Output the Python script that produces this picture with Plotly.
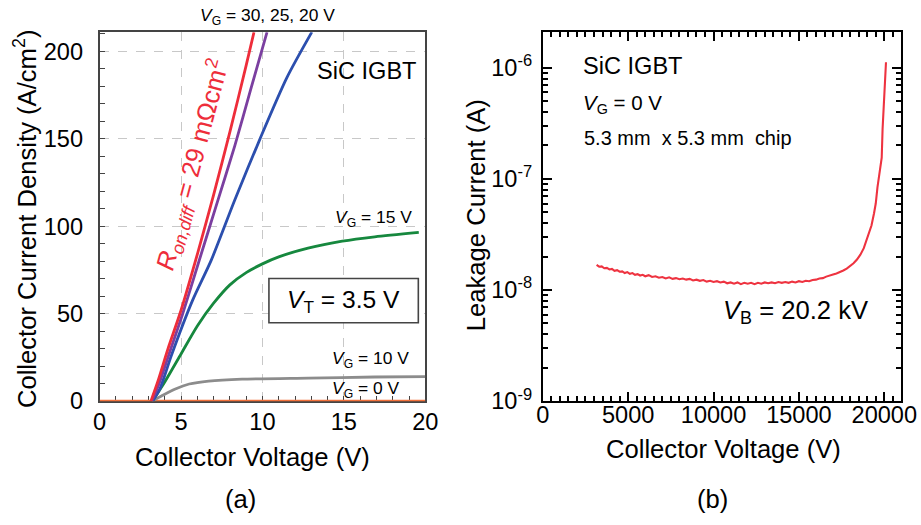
import plotly.graph_objects as go

FONT = "Liberation Sans, Arial, sans-serif"
W, H = 921, 525
# page-to-figure calibration of the rendered output
SX, OX, SY, OY = 0.979, 4.0, 0.970, 1.0
FS = 1.025

# ---------------- (a) output characteristics ----------------
vce_vg30 = [3.15, 3.6, 4.2, 5.0, 6.0, 7.0, 8.0, 9.0, 9.48]
jc_vg30 = [0, 12, 30, 52, 84, 118, 154, 192, 211]

vce_vg25 = [3.2, 3.65, 4.3, 5.1, 6.1, 7.2, 8.3, 9.3, 10.28]
jc_vg25 = [0, 10, 28, 50, 80, 113, 146, 179, 211]

vce_vg20 = [3.25, 3.7, 4.4, 5.7, 6.85, 8.3, 9.85, 11.5, 13.03]
jc_vg20 = [0, 7, 26, 57.5, 80.5, 115, 150, 185, 211]

vce_vg15 = [3.24, 4.0, 5.0, 6.0, 7.0, 8.0, 9.0, 10.0, 11.0, 12.8, 14.9, 16.9, 19.6]
jc_vg15 = [0, 11, 27, 43, 56, 66.5, 73.5, 78.5, 82.5, 87.5, 91.5, 94, 96.5]

vce_vg10 = [3.2, 3.8, 4.65, 5.5, 6.7, 8.75, 12.8, 16.9, 20.0]
jc_vg10 = [0, 3, 7, 9.8, 11.5, 12.6, 13.2, 13.8, 14.0]

vce_vg0 = [0, 20]
jc_vg0 = [0, 0]

x_ticks_a = [0, 5, 10, 15, 20]
y_ticks_a = [0, 50, 100, 150, 200]

# ---------------- (b) blocking characteristic ----------------
v_block = [3150, 3300, 3450, 3600, 3750, 3900, 4050, 4200, 4350, 4500, 4650, 4800,
           4950, 5100, 5250, 5400, 5550, 5700, 5850, 6000, 6200, 6400, 6600, 6800,
           7000, 7200, 7400, 7600, 7800, 8000, 8200, 8400, 8600, 8800, 9000, 9200,
           9400, 9600, 9800, 10000, 10200, 10400, 10600, 10800, 11000, 11200, 11400,
           11600, 11800, 12000, 12200, 12400, 12600, 12800, 13000, 13200, 13400,
           13600, 13800, 14000, 14200, 14400, 14600, 14800, 15000, 15200, 15400,
           15600, 15800, 16000, 16200, 16400, 16600, 16800, 17000, 17200, 17400,
           17600, 17800, 18000, 18200, 18400, 18600, 18800, 18950, 19100, 19250,
           19400, 19500, 19600, 19700, 19800, 19850, 19900, 19950, 20000, 20050, 20100]
i_leak_e8 = [1.68, 1.62, 1.63, 1.57, 1.58, 1.53, 1.55, 1.49, 1.51, 1.46, 1.47, 1.42,
             1.45, 1.40, 1.42, 1.37, 1.39, 1.35, 1.37, 1.33, 1.36, 1.31, 1.33, 1.29,
             1.31, 1.27, 1.30, 1.26, 1.28, 1.25, 1.27, 1.24, 1.26, 1.22, 1.24, 1.21,
             1.23, 1.19, 1.21, 1.18, 1.20, 1.17, 1.19, 1.15, 1.17, 1.14, 1.17,
             1.13, 1.16, 1.14, 1.16, 1.13, 1.16, 1.14, 1.17, 1.15, 1.17,
             1.15, 1.18, 1.16, 1.18, 1.16, 1.19, 1.17, 1.20, 1.18, 1.21,
             1.20, 1.23, 1.24, 1.27, 1.28, 1.32, 1.34, 1.38, 1.41, 1.45,
             1.50, 1.56, 1.64, 1.74, 1.88, 2.08, 2.38, 2.75, 3.15, 3.8,
             4.9, 6.0, 8.4, 10.5, 13.0, 15.5, 28, 40, 62, 88, 112]
i_leak = [v * 1e-8 for v in i_leak_e8]

x_ticks_b = [0, 5000, 10000, 15000, 20000]
x_ticks_b_text = ["0", "5000", "10000", "15000", "20000"]
y_decades = [1e-9, 1e-8, 1e-7, 1e-6]
y_decade_text = ["10<sup>-9</sup>", "10<sup>-8</sup>", "10<sup>-7</sup>", "10<sup>-6</sup>"]
y_minor = [m * d for d in [1e-9, 1e-8, 1e-7] for m in range(2, 10)]

RED, PURPLE, BLUE = "#ee2d3a", "#7b3fa0", "#2c4fae"
GREEN, GRAY, ORANGE = "#16883e", "#8c8c8c", "#f2703a"


def px_x(p):
    return (p - OX) / SX / W


def px_y(p):
    return 1 - (p - OY) / SY / H


def fs(s):
    return s * FS


fig = go.Figure()

for xs, ys, col in [(vce_vg0, jc_vg0, ORANGE), (vce_vg10, jc_vg10, GRAY),
                    (vce_vg15, jc_vg15, GREEN), (vce_vg20, jc_vg20, BLUE),
                    (vce_vg25, jc_vg25, PURPLE), (vce_vg30, jc_vg30, RED)]:
    fig.add_trace(go.Scatter(x=xs, y=ys, mode="lines", xaxis="x", yaxis="y",
                             line=dict(color=col, width=2.8, shape="spline", smoothing=0.7),
                             cliponaxis=False, showlegend=False, hoverinfo="skip"))

fig.add_trace(go.Scatter(x=v_block, y=i_leak, mode="lines", xaxis="x2", yaxis="y2",
                         line=dict(color="#ee3340", width=2.1),
                         showlegend=False, hoverinfo="skip"))

tickfont = dict(family=FONT, size=fs(23), color="black")
grid = dict(showgrid=True, gridcolor="#c8c8c8", griddash="dash", gridwidth=1)

fig.update_layout(
    width=W, height=H, margin=dict(l=0, r=0, t=0, b=0),
    paper_bgcolor="white", plot_bgcolor="white",
    font=dict(family=FONT, color="black"),
    xaxis=dict(domain=[px_x(97), px_x(424)], anchor="y", range=[0, 20],
               tickmode="array", tickvals=x_ticks_a, ticks="inside", ticklen=5,
               tickcolor="#444", tickfont=tickfont, ticklabelstandoff=-1,
               minor=dict(dtick=1, ticks="inside", ticklen=5, tickcolor="#444", showgrid=False),
               showline=True, linecolor="#444", linewidth=1.6, mirror=True,
               zeroline=False, layer="below traces", **grid),
    yaxis=dict(domain=[px_y(400), px_y(33)], anchor="x", range=[0, 211],
               tickmode="array", tickvals=y_ticks_a, ticks="inside", ticklen=6,
               tickcolor="#444", tickfont=tickfont, ticklabelstandoff=10,
               minor=dict(dtick=10, ticks="inside", ticklen=6, tickcolor="#444", showgrid=False),
               showline=True, linecolor="#444", linewidth=1.6, mirror=True,
               zeroline=False, layer="below traces", **grid),
    xaxis2=dict(domain=[px_x(542), px_x(902)], anchor="y2", range=[0, 21000],
                tickmode="array", tickvals=x_ticks_b, ticktext=x_ticks_b_text,
                ticks="inside", ticklen=9, tickwidth=1.5, tickcolor="black",
                tickfont=tickfont, ticklabelstandoff=-8,
                minor=dict(dtick=500, ticks="inside", ticklen=5, tickwidth=1.5,
                           tickcolor="black", showgrid=False),
                showline=True, linecolor="black", linewidth=2, mirror="allticks",
                showgrid=False, zeroline=False),
    yaxis2=dict(domain=[px_y(400), px_y(33)], anchor="x2", type="log", range=[-9, -5.68],
                tickmode="array", tickvals=y_decades, ticktext=y_decade_text,
                ticks="inside", ticklen=9, tickwidth=1.5, tickcolor="black",
                tickfont=tickfont, ticklabelstandoff=4,
                minor=dict(tickmode="array", tickvals=y_minor, ticks="inside", ticklen=5,
                           tickwidth=1.5, tickcolor="black", showgrid=False),
                showline=True, linecolor="black", linewidth=2, mirror="allticks",
                showgrid=False, zeroline=False),
)

# V_T box
fig.add_shape(type="rect", xref="paper", yref="paper",
              x0=px_x(267), x1=px_x(417), y0=px_y(322), y1=px_y(278),
              line=dict(color="#444", width=1.6), fillcolor="white", layer="above")


def note(text, x, y, size, xanchor="center", color="black", angle=0):
    fig.add_annotation(text=text, x=px_x(x), y=px_y(y), xref="paper", yref="paper",
                       xanchor=xanchor, yanchor="middle", showarrow=False,
                       textangle=angle, font=dict(family=FONT, size=fs(size), color=color))


# panel (a) texts
note("Collector Current Density (A/cm<sup>2</sup>)", 22, 218, 25, angle=-90)
note("Collector Voltage (V)", 251, 456, 25)
note("(a)", 238, 497, 25)
note("<i>V</i><sub>G</sub> = 30, 25, 20 V", 266, 17, 17)
note("SiC IGBT", 365, 72, 23)
note("<i>V</i><sub>G</sub> = 15 V", 413, 218, 17, xanchor="right")
note("<i>V</i><sub>T</sub> = 3.5 V", 342, 301, 24)
note("<i>V</i><sub>G</sub> = 10 V", 410, 359, 17, xanchor="right")
note("<i>V</i><sub>G</sub> = 0 V", 400, 388, 17, xanchor="right")
note("<i>R</i><sub><i>on,diff</i></sub> = 29 mΩcm<sup>2</sup>", 190, 165, 25,
     color=RED, angle=-75)

# panel (b) texts
note("Leakage Current (A)", 475, 215, 25, angle=-90)
note("Collector Voltage (V)", 723, 448, 25)
note("(b)", 712, 497, 25)
note("SiC IGBT", 580, 67, 23, xanchor="left")
note("<i>V</i><sub>G</sub> = 0 V", 580, 104, 20, xanchor="left")
note("5.3 mm  x 5.3 mm  chip", 581, 138, 19.5, xanchor="left")
note("<i>V</i><sub>B</sub> = 20.2 kV", 796, 311, 25)

fig.write_html("out.html")
